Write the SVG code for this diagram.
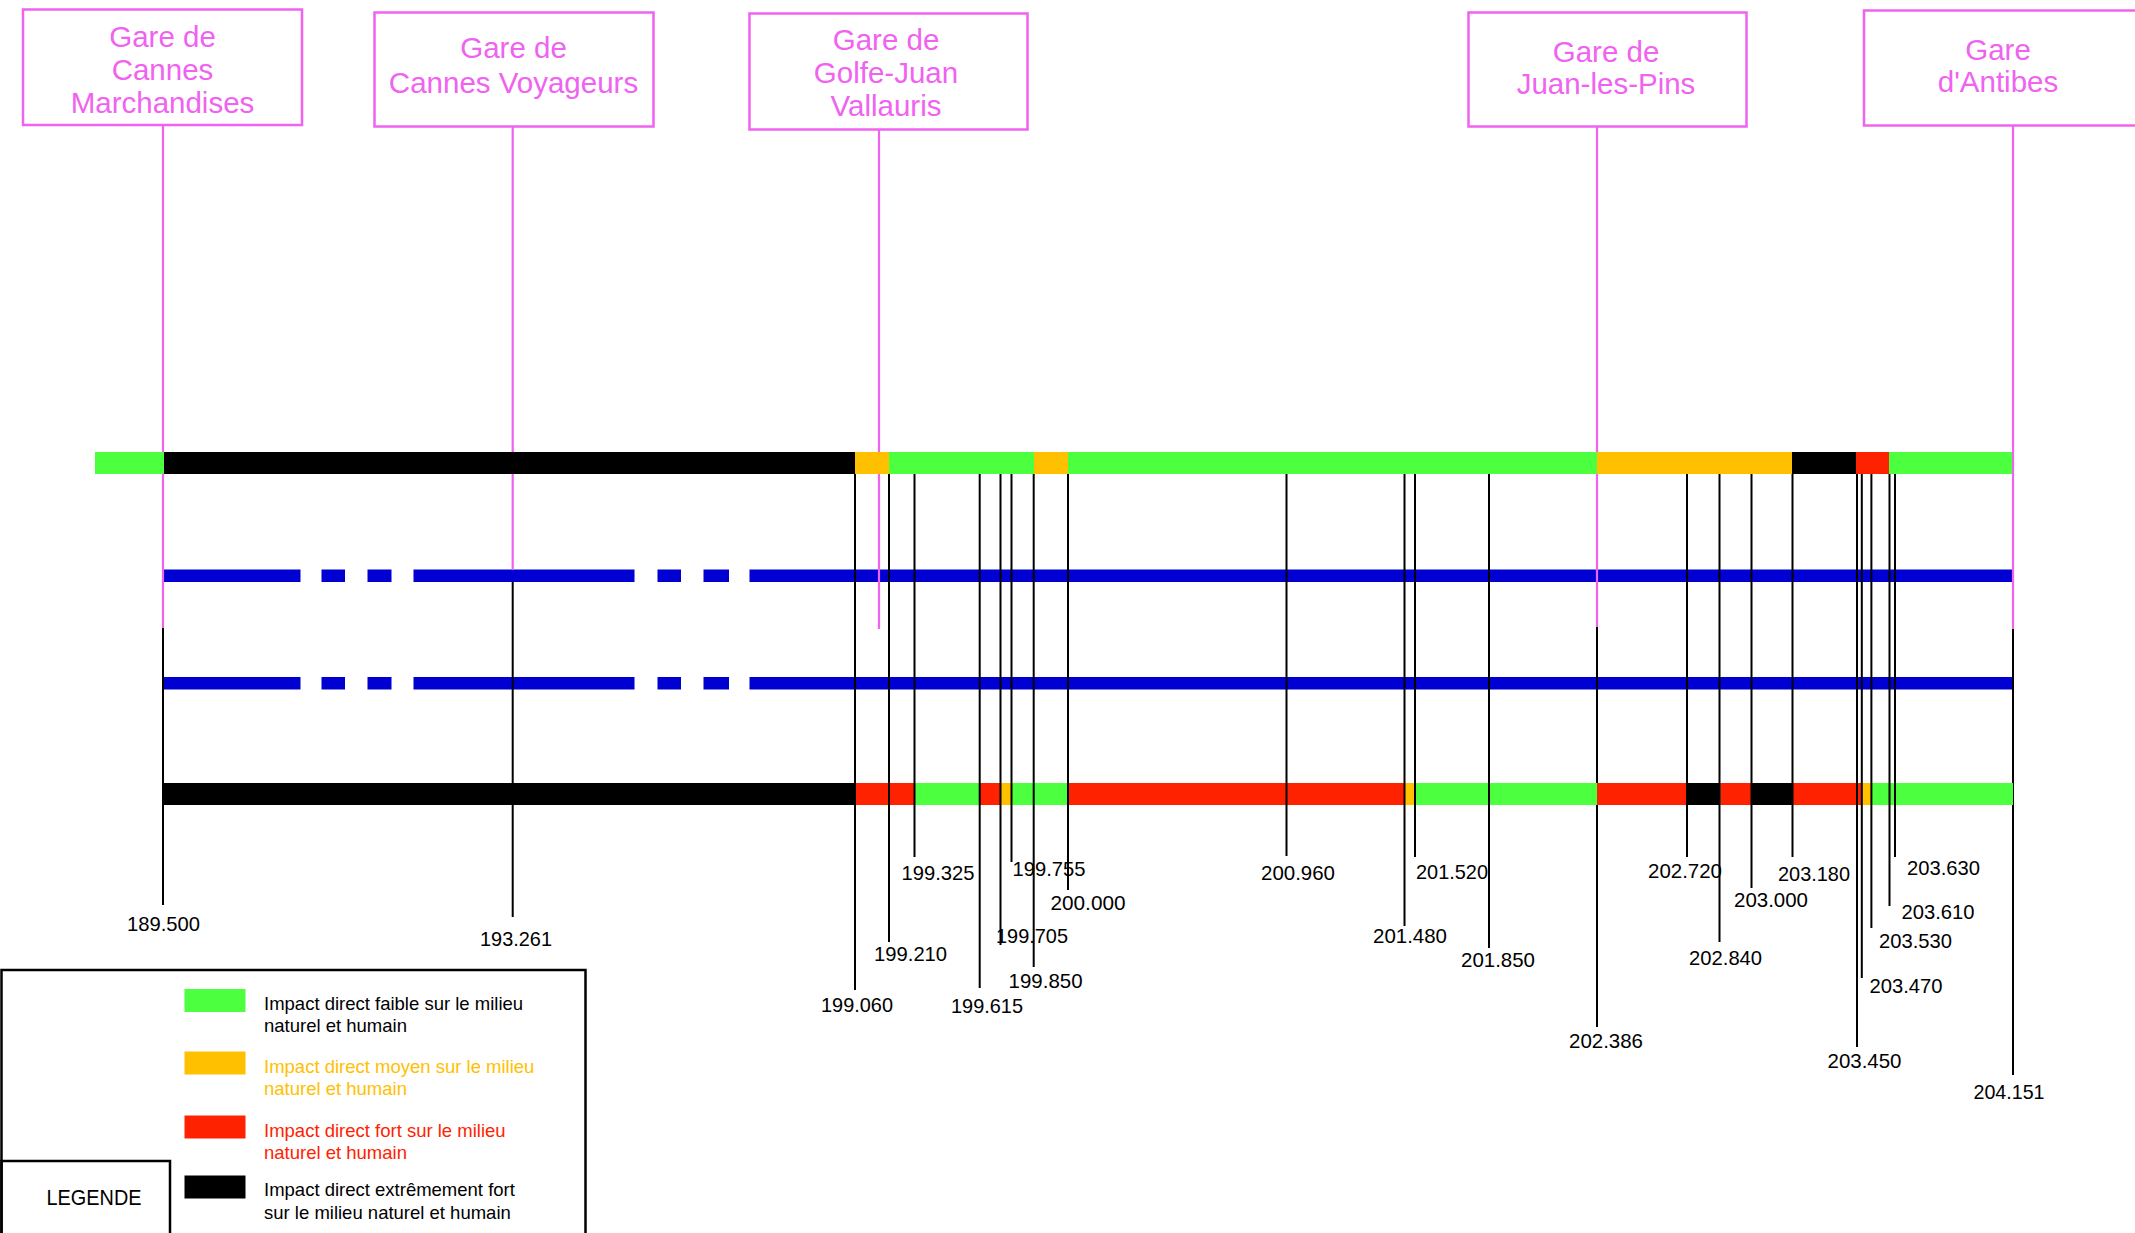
<svg xmlns="http://www.w3.org/2000/svg" width="2135" height="1233" viewBox="0 0 2135 1233">
<style>
.bg{fill:#ffffff}
.box{fill:#ffffff;stroke:#f062f0;stroke-width:2.5}
.st{font-family:"Liberation Sans",Arial,sans-serif;font-size:29.5px;fill:#f062f0;text-anchor:middle}
.pk{stroke:#f062f0;stroke-width:2.2;fill:none}
.bk{stroke:#000000;stroke-width:2;fill:none}
.km{font-family:"Liberation Sans",Arial,sans-serif;font-size:21px;fill:#000000;text-anchor:middle}
.g{fill:#4cff3f}.o{fill:#ffc000}.r{fill:#ff2200}.k{fill:#000000}
.bl{fill:#0000d2}
.lg{font-family:"Liberation Sans",Arial,sans-serif;font-size:18.5px}
.lbox{fill:none;stroke:#000000;stroke-width:2.5}
</style>
<rect class="bg" x="0" y="0" width="2135" height="1233"/>

<g id="blue-tracks">
<g id="track-1">
<rect class="bl" x="164" y="569.5" width="136.5" height="12.5"/>
<rect class="bl" x="321.5" y="569.5" width="23.5" height="12.5"/>
<rect class="bl" x="367.5" y="569.5" width="24" height="12.5"/>
<rect class="bl" x="413.5" y="569.5" width="221" height="12.5"/>
<rect class="bl" x="657.5" y="569.5" width="23.5" height="12.5"/>
<rect class="bl" x="703.5" y="569.5" width="25.5" height="12.5"/>
<rect class="bl" x="749.5" y="569.5" width="1263" height="12.5"/>
</g>
<g id="track-2">
<rect class="bl" x="164" y="677" width="136.5" height="12.5"/>
<rect class="bl" x="321.5" y="677" width="23.5" height="12.5"/>
<rect class="bl" x="367.5" y="677" width="24" height="12.5"/>
<rect class="bl" x="413.5" y="677" width="221" height="12.5"/>
<rect class="bl" x="657.5" y="677" width="23.5" height="12.5"/>
<rect class="bl" x="703.5" y="677" width="25.5" height="12.5"/>
<rect class="bl" x="749.5" y="677" width="1263" height="12.5"/>
</g>
</g>

<g id="connectors">
<line class="pk" x1="163" y1="125" x2="163" y2="628"/>
<line class="bk" x1="163" y1="628" x2="163" y2="905"/>
<line class="pk" x1="512.7" y1="127" x2="512.7" y2="570"/>
<line class="bk" x1="512.7" y1="582" x2="512.7" y2="917"/>
<line class="pk" x1="879" y1="130" x2="879" y2="629"/>
<line class="pk" x1="1597" y1="127" x2="1597" y2="627"/>
<line class="bk" x1="1597" y1="627" x2="1597" y2="1027"/>
<line class="pk" x1="2013" y1="126" x2="2013" y2="629"/>
<line class="bk" x1="2013" y1="629" x2="2013" y2="1075"/>
</g>

<g id="impact-top">
<rect class="g" x="95" y="452" width="69" height="22"/>
<rect class="k" x="164" y="452" width="691" height="22"/>
<rect class="o" x="855" y="452" width="34" height="22"/>
<rect class="g" x="889" y="452" width="145" height="22"/>
<rect class="o" x="1034" y="452" width="34" height="22"/>
<rect class="g" x="1068" y="452" width="529" height="22"/>
<rect class="o" x="1597" y="452" width="195" height="22"/>
<rect class="k" x="1792" y="452" width="64" height="22"/>
<rect class="r" x="1856" y="452" width="33" height="22"/>
<rect class="g" x="1889" y="452" width="123" height="22"/>
</g>

<g id="impact-bottom">
<rect class="k" x="163" y="783" width="692" height="22"/>
<rect class="r" x="855" y="783" width="59.5" height="22"/>
<rect class="g" x="914.5" y="783" width="65.5" height="22"/>
<rect class="r" x="980" y="783" width="21" height="22"/>
<rect class="o" x="1001" y="783" width="11" height="22"/>
<rect class="g" x="1012" y="783" width="56" height="22"/>
<rect class="r" x="1068" y="783" width="337" height="22"/>
<rect class="o" x="1405" y="783" width="9.5" height="22"/>
<rect class="g" x="1414.5" y="783" width="182.5" height="22"/>
<rect class="r" x="1597" y="783" width="90" height="22"/>
<rect class="k" x="1687" y="783" width="33.5" height="22"/>
<rect class="r" x="1720.5" y="783" width="31" height="22"/>
<rect class="k" x="1751.5" y="783" width="41.5" height="22"/>
<rect class="r" x="1793" y="783" width="68" height="22"/>
<rect class="o" x="1861" y="783" width="10" height="22"/>
<rect class="g" x="1871" y="783" width="142" height="22"/>
</g>

<g id="km-ticks">
<line class="bk" x1="855" y1="474" x2="855" y2="990"/>
<line class="bk" x1="889" y1="474" x2="889" y2="942"/>
<line class="bk" x1="914.5" y1="474" x2="914.5" y2="857"/>
<line class="bk" x1="979.7" y1="474" x2="979.7" y2="988"/>
<line class="bk" x1="1000.5" y1="474" x2="1000.5" y2="945"/>
<line class="bk" x1="1011.5" y1="474" x2="1011.5" y2="862"/>
<line class="bk" x1="1033.7" y1="474" x2="1033.7" y2="967"/>
<line class="bk" x1="1068" y1="474" x2="1068" y2="890"/>
<line class="bk" x1="1286.5" y1="474" x2="1286.5" y2="856"/>
<line class="bk" x1="1404.5" y1="474" x2="1404.5" y2="926"/>
<line class="bk" x1="1415" y1="474" x2="1415" y2="857"/>
<line class="bk" x1="1489" y1="474" x2="1489" y2="948"/>
<line class="bk" x1="1687" y1="474" x2="1687" y2="857"/>
<line class="bk" x1="1719.5" y1="474" x2="1719.5" y2="942"/>
<line class="bk" x1="1751.5" y1="474" x2="1751.5" y2="888"/>
<line class="bk" x1="1792.5" y1="474" x2="1792.5" y2="857"/>
<line class="bk" x1="1857" y1="474" x2="1857" y2="1047"/>
<line class="bk" x1="1861.8" y1="474" x2="1861.8" y2="978"/>
<line class="bk" x1="1871.4" y1="474" x2="1871.4" y2="928"/>
<line class="bk" x1="1889.5" y1="474" x2="1889.5" y2="906"/>
<line class="bk" x1="1895" y1="474" x2="1895" y2="857"/>
</g>

<g id="km-labels">
<text class="km" x="163.5" y="931" textLength="73" lengthAdjust="spacingAndGlyphs">189.500</text>
<text class="km" x="516" y="946" textLength="72" lengthAdjust="spacingAndGlyphs">193.261</text>
<text class="km" x="857" y="1012" textLength="72" lengthAdjust="spacingAndGlyphs">199.060</text>
<text class="km" x="910.6" y="961" textLength="73" lengthAdjust="spacingAndGlyphs">199.210</text>
<text class="km" x="938" y="880" textLength="73" lengthAdjust="spacingAndGlyphs">199.325</text>
<text class="km" x="987" y="1013" textLength="72" lengthAdjust="spacingAndGlyphs">199.615</text>
<text class="km" x="1032" y="943" textLength="72" lengthAdjust="spacingAndGlyphs">199.705</text>
<text class="km" x="1049" y="876" textLength="73" lengthAdjust="spacingAndGlyphs">199.755</text>
<text class="km" x="1045.6" y="988" textLength="74" lengthAdjust="spacingAndGlyphs">199.850</text>
<text class="km" x="1088" y="910" textLength="75" lengthAdjust="spacingAndGlyphs">200.000</text>
<text class="km" x="1298" y="880" textLength="74" lengthAdjust="spacingAndGlyphs">200.960</text>
<text class="km" x="1410" y="943" textLength="74" lengthAdjust="spacingAndGlyphs">201.480</text>
<text class="km" x="1452" y="879" textLength="72" lengthAdjust="spacingAndGlyphs">201.520</text>
<text class="km" x="1498" y="967" textLength="74" lengthAdjust="spacingAndGlyphs">201.850</text>
<text class="km" x="1606" y="1048" textLength="74" lengthAdjust="spacingAndGlyphs">202.386</text>
<text class="km" x="1685" y="878" textLength="74" lengthAdjust="spacingAndGlyphs">202.720</text>
<text class="km" x="1725.6" y="965" textLength="73" lengthAdjust="spacingAndGlyphs">202.840</text>
<text class="km" x="1771" y="907" textLength="74" lengthAdjust="spacingAndGlyphs">203.000</text>
<text class="km" x="1814" y="881" textLength="72" lengthAdjust="spacingAndGlyphs">203.180</text>
<text class="km" x="1864.5" y="1068" textLength="74" lengthAdjust="spacingAndGlyphs">203.450</text>
<text class="km" x="1906" y="993" textLength="73" lengthAdjust="spacingAndGlyphs">203.470</text>
<text class="km" x="1915.5" y="948" textLength="73" lengthAdjust="spacingAndGlyphs">203.530</text>
<text class="km" x="1938" y="919" textLength="73" lengthAdjust="spacingAndGlyphs">203.610</text>
<text class="km" x="1943.5" y="875" textLength="73" lengthAdjust="spacingAndGlyphs">203.630</text>
<text class="km" x="2009" y="1099" textLength="71" lengthAdjust="spacingAndGlyphs">204.151</text>
</g>

<g id="gare-cannes-marchandises">
<rect class="box" x="23" y="9.5" width="279" height="115.5"/>
<text class="st" x="162.5" y="46.5">Gare de</text>
<text class="st" x="162.5" y="79.5">Cannes</text>
<text class="st" x="162.5" y="113">Marchandises</text>
</g>
<g id="gare-cannes-voyageurs">
<rect class="box" x="374.5" y="12.5" width="279" height="114"/>
<text class="st" x="513.5" y="57.5">Gare de</text>
<text class="st" x="513.5" y="92.5">Cannes Voyageurs</text>
</g>
<g id="gare-golfe-juan">
<rect class="box" x="749.5" y="13.5" width="278" height="116"/>
<text class="st" x="886" y="49.5">Gare de</text>
<text class="st" x="886" y="83">Golfe-Juan</text>
<text class="st" x="886" y="115.5">Vallauris</text>
</g>
<g id="gare-juan-les-pins">
<rect class="box" x="1468.5" y="12.5" width="278" height="114"/>
<text class="st" x="1606" y="61.5">Gare de</text>
<text class="st" x="1606" y="93.5">Juan-les-Pins</text>
</g>
<g id="gare-antibes">
<rect class="box" x="1864" y="10.5" width="282" height="115"/>
<text class="st" x="1998" y="60">Gare</text>
<text class="st" x="1998" y="92">d'Antibes</text>
</g>

<g id="legend">
<rect class="lbox" x="1.5" y="970" width="584" height="270"/>
<rect class="lbox" x="1.5" y="1161" width="168.5" height="80"/>
<text x="94" y="1205" font-family="'Liberation Sans',Arial,sans-serif" font-size="22" text-anchor="middle" textLength="95" lengthAdjust="spacingAndGlyphs">LEGENDE</text>
<rect class="g" x="184.5" y="989" width="61" height="23"/>
<rect class="o" x="184.5" y="1051.5" width="61" height="23"/>
<rect class="r" x="184.5" y="1115.5" width="61" height="23"/>
<rect class="k" x="184.5" y="1175.5" width="61" height="23"/>
<text class="lg" x="264" y="1010" fill="#000000">Impact direct faible sur le milieu</text>
<text class="lg" x="264" y="1031.5" fill="#000000">naturel et humain</text>
<text class="lg" x="264" y="1073" fill="#ffc000">Impact direct moyen sur le milieu</text>
<text class="lg" x="264" y="1095" fill="#ffc000">naturel et humain</text>
<text class="lg" x="264" y="1136.5" fill="#ff2200">Impact direct fort sur le milieu</text>
<text class="lg" x="264" y="1159" fill="#ff2200">naturel et humain</text>
<text class="lg" x="264" y="1196" fill="#000000">Impact direct extrêmement fort</text>
<text class="lg" x="264" y="1219" fill="#000000">sur le milieu naturel et humain</text>
</g>
</svg>
